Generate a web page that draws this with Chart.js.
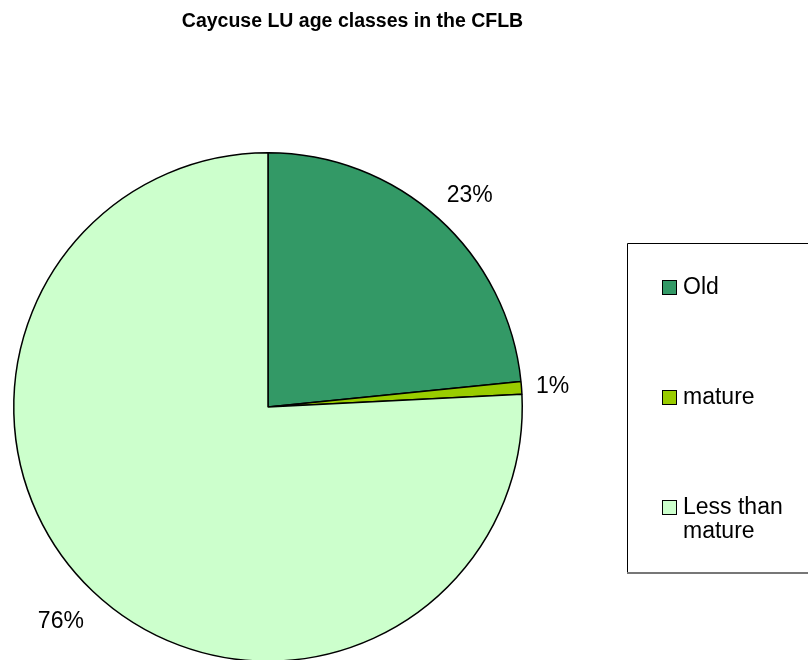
<!DOCTYPE html>
<html>
<head>
<meta charset="utf-8">
<script src="https://cdn.jsdelivr.net/npm/chart.js@4"></script>
<style>
  html, body { margin: 0; padding: 0; background: #fff; overflow: hidden; }
  #wrap { width: 808px; height: 660px; overflow: hidden; position: relative; }
</style>
</head>
<body>
<div id="wrap"><canvas id="pie" width="808" height="680"></canvas></div>
<script>
// Caycuse LU age classes (share of area, %)
const CATEGORIES = ['Old', 'mature', 'Less than mature'];
const LEGEND_LINES = [['Old'], ['mature'], ['Less than', 'mature']];
const VALUES = [23.4, 0.8, 75.8];
const COLORS = ['#339966', '#99CC00', '#CCFFCC'];
const TITLE = 'Caycuse LU age classes in the CFLB';

const FONT = '"Liberation Sans", Arial, sans-serif';

const total = VALUES.reduce((a, b) => a + b, 0);
const pctLabels = VALUES.map(v => Math.round(v / total * 100) + '%');

const decorPlugin = {
  id: 'decor',
  afterDraw(chart) {
    const ctx = chart.ctx;
    ctx.save();

    // title
    ctx.fillStyle = '#000';
    ctx.font = 'bold 19.5px ' + FONT;
    ctx.textAlign = 'center';
    ctx.textBaseline = 'alphabetic';
    ctx.fillText(TITLE, 352.5, 27);

    // percent labels outside the slices
    ctx.font = '23px ' + FONT;
    ctx.textAlign = 'center';
    ctx.textBaseline = 'middle';
    const arcs = chart.getDatasetMeta(0).data;
    arcs.forEach((arc, i) => {
      const mid = (arc.startAngle + arc.endAngle) / 2;
      const cx = Math.cos(mid), cy = Math.sin(mid);
      const w = ctx.measureText(pctLabels[i]).width;
      const d = arc.outerRadius + 13 + Math.abs(cx) * w / 2 + Math.abs(cy) * 11;
      const lx = arc.x + cx * d + Math.sign(cx) * Math.abs(cy) * 9;
      const ly = arc.y + cy * d + 1 + Math.abs(cy) * 4;
      ctx.fillText(pctLabels[i], lx, ly);
    });

    // legend box
    ctx.strokeStyle = '#000';
    ctx.lineWidth = 1;
    ctx.beginPath();
    ctx.moveTo(809, 243.5);
    ctx.lineTo(627.5, 243.5);
    ctx.lineTo(627.5, 572);
    ctx.stroke();
    ctx.strokeStyle = '#777';
    ctx.lineWidth = 2;
    ctx.beginPath();
    ctx.moveTo(627, 573);
    ctx.lineTo(809, 573);
    ctx.stroke();

    const rowY = [287, 397, 507];
    ctx.textAlign = 'left';
    ctx.font = '23px ' + FONT;
    CATEGORIES.forEach((c, i) => {
      const y = rowY[i];
      ctx.fillStyle = COLORS[i];
      ctx.fillRect(662, y - 7, 14, 14);
      ctx.strokeStyle = '#000';
      ctx.lineWidth = 1;
      ctx.strokeRect(662.5, y - 6.5, 14, 14);
      ctx.fillStyle = '#000';
      LEGEND_LINES[i].forEach((line, j) => {
        ctx.fillText(line, 683, y + 1 + j * 24);
      });
    });

    ctx.restore();
  }
};

new Chart(document.getElementById('pie').getContext('2d'), {
  type: 'pie',
  data: {
    labels: CATEGORIES,
    datasets: [{
      data: VALUES,
      backgroundColor: COLORS,
      borderColor: '#000',
      borderWidth: 1.5,
      borderAlign: 'center'
    }]
  },
  options: {
    responsive: false,
    animation: false,
    layout: { padding: { left: 13, top: 152, right: 285, bottom: 18 } },
    plugins: {
      legend: { display: false },
      title: { display: false },
      tooltip: { enabled: false }
    }
  },
  plugins: [decorPlugin]
});
</script>
</body>
</html>
